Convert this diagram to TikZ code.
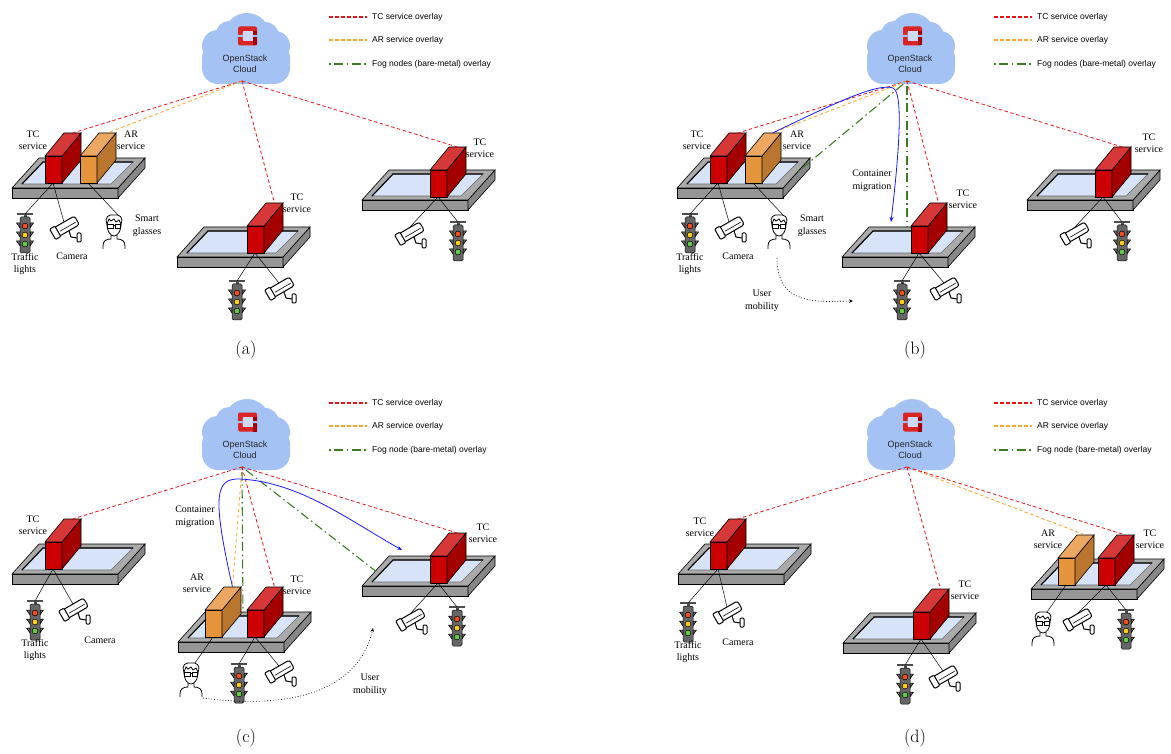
\documentclass[tikz,border=0pt]{standalone}
\usepackage{fontspec}
\newfontfamily\lblfont{Liberation Serif}
\newfontfamily\keyfont{Liberation Sans}
\usetikzlibrary{arrows.meta}

\definecolor{cloudblue}{RGB}{164,194,244}
\definecolor{logored}{RGB}{218,36,36}
\definecolor{logohole}{RGB}{205,218,246}
\definecolor{tcred}{RGB}{230,20,20}
\definecolor{arorange}{RGB}{255,165,40}
\definecolor{foggreen}{RGB}{60,125,35}
\definecolor{migblue}{RGB}{25,25,255}
\definecolor{tcfront}{RGB}{204,0,0}
\definecolor{tctop}{RGB}{214,56,56}
\definecolor{tcside}{RGB}{165,0,0}
\definecolor{arfront}{RGB}{230,148,60}
\definecolor{artop}{RGB}{236,168,98}
\definecolor{arside}{RGB}{186,118,46}
\definecolor{slabtop}{RGB}{170,170,170}
\definecolor{slabfront}{RGB}{150,150,150}
\definecolor{slabside}{RGB}{135,135,135}
\definecolor{screen}{RGB}{214,227,248}
\definecolor{lampred}{RGB}{240,80,30}
\definecolor{lampyellow}{RGB}{250,205,30}
\definecolor{lampgreen}{RGB}{100,205,70}

\tikzset{
  tcline/.style={tcred, line width=0.8pt, dash pattern=on 3.5pt off 2.5pt},
  arline/.style={arorange, line width=0.8pt, dash pattern=on 3.5pt off 2.5pt},
  fogline/.style={foggreen, line width=1.1pt, dash pattern=on 1.5pt off 3.5pt on 9pt off 3.5pt},
  migration/.style={migblue, line width=0.8pt, -{Stealth[length=5pt,width=4pt]}},
  mobility/.style={black, line width=0.7pt, dash pattern=on 0.8pt off 2pt, -{Stealth[length=4pt,width=3.5pt]}},
  wire/.style={black, line width=0.5pt},
  lbl/.style={font=\lblfont\fontsize{10}{12.5}\selectfont, align=center, inner sep=0pt},
  keytext/.style={font=\keyfont\fontsize{8.5}{10}\selectfont, anchor=west, inner sep=0pt},
  cloudtext/.style={font=\keyfont\fontsize{9}{11.5}\selectfont, align=center, inner sep=0pt, text=black!85},
  caption/.style={font=\fontsize{18}{20}\selectfont, inner sep=0pt}
}

% cloud with the OpenStack logo; #1 name, (#2,#3) centre
\newcommand{\stackcloud}[3]{%
  \begin{scope}[shift={(#2,#3)}]
    \fill[cloudblue] (2,-12) circle (23pt) (-27,-2) circle (16pt) (30,-2) circle (15pt)
      (-16,-14) circle (13pt) (20,-12) circle (14pt);
    \fill[cloudblue, rounded corners=16pt] (-43,-6) rectangle (45,36);
    \fill[logored, even odd rule, rounded corners=2pt] (-7,-21.5) rectangle (12,-2.5)
      (-2.5,-17) rectangle (7.5,-7);
    \fill[logohole] (-2.5,-17) rectangle (7.5,-7);
    \fill[tcside] (7.5,-17) rectangle (12,-2.5);
    \fill[cloudblue] (-8,-13) rectangle (-2.5,-11) (7.5,-13) rectangle (13,-11);
    \node[cloudtext] (#1) at (0,16) {OpenStack\\Cloud};
    \coordinate (#1-hub) at (-3,33);
  \end{scope}}

% fog node slab; #1 name, (#2,#3) front-left corner of the top face
\newcommand{\slab}[3]{%
  \begin{scope}[shift={(#2,#3)}, line width=0.6pt]
    \filldraw[fill=slabfront] (0,0) rectangle (106,10);
    \filldraw[fill=slabside] (106,0) -- (133,-30) -- (133,-20) -- (106,10) -- cycle;
    \filldraw[fill=slabtop] (0,0) -- (106,0) -- (133,-30) -- (27,-30) -- cycle;
    \filldraw[fill=screen, draw=black!60] (10,-4) -- (99,-4) -- (121,-26) -- (31,-26) -- cycle;
    \draw[line width=1.1pt] (10,-4) -- (31,-26) -- (121,-26);
    \coordinate (#1-w) at (13.5,-15);
    \coordinate (#1-e) at (119.5,-15);
    \coordinate (#1-n) at (65,-30);
  \end{scope}}

% service container; #1 name, (#2,#3) front-bottom-left corner, #4 tc or ar
\newcommand{\crate}[4]{%
  \begin{scope}[shift={(#2,#3)}, line width=0.6pt]
    \filldraw[fill=#4front] (0,0) rectangle (17,-27);
    \filldraw[fill=#4side] (17,0) -- (17,-27) -- (36,-50) -- (36,-23) -- cycle;
    \filldraw[fill=#4top] (0,-27) -- (17,-27) -- (36,-50) -- (19,-50) -- cycle;
    \coordinate (#1-top) at (27.5,-50);
    \coordinate (#1-base) at (8,0);
  \end{scope}}

% traffic light; #1 name, (#2,#3) middle of the top bar
\newcommand{\tlight}[3]{%
  \begin{scope}[shift={(#2,#3)}, line width=0.5pt]
    \draw[line width=1.3pt, black!70] (-8,0) -- (8,0);
    \fill[black!70] (-1.5,0) rectangle (1.5,3);
    \foreach \y in {9,18,27} {
      \filldraw[fill=black!60] (-5,\y) -- (-8.5,\y) -- (-5,\y+5) -- cycle;
      \filldraw[fill=black!60] (5,\y) -- (8.5,\y) -- (5,\y+5) -- cycle;
    }
    \filldraw[fill=black!60, rounded corners=1.5pt] (-5,3) rectangle (5,39);
    \filldraw[fill=lampred] (0,12) circle (2.9pt);
    \filldraw[fill=lampyellow] (0,21) circle (2.9pt);
    \filldraw[fill=lampgreen] (0,30) circle (2.9pt);
    \coordinate (#1) at (0,0);
  \end{scope}}

% surveillance camera; #1 name, (#2,#3) top of the housing
\newcommand{\cctv}[3]{%
  \begin{scope}[shift={(#2,#3)}, line width=1pt]
    \draw (5,9) -- (7,15) -- (13,16);
    \filldraw[fill=white, rounded corners=1pt] (13,11) rectangle (17,20);
    \begin{scope}[rotate=30]
      \filldraw[fill=white, rounded corners=2.5pt] (-12,0) rectangle (12,10);
      \filldraw[fill=white, rounded corners=1pt] (-16,-1) rectangle (-10,11);
      \draw[line width=0.6pt] (-8,6) -- (10,6);
    \end{scope}
    \coordinate (#1) at (0,0);
  \end{scope}}

% user wearing smart glasses; #1 name, (#2,#3) top of the head
\newcommand{\wearer}[3]{%
  \begin{scope}[shift={(#2,#3)}, line width=0.8pt]
    \draw[fill=white] (-7,7) .. controls (-7.5,17) and (-3,21) .. (0,21)
      .. controls (3,21) and (7.5,17) .. (7,7);
    \draw[fill=white] (-7,9) .. controls (-10,2) and (-5,-1) .. (0,0)
      .. controls (5,-1) and (10,2) .. (7,9) -- (5,5) -- (2,7) -- (0,4) -- (-3,6) -- (-5,4) -- cycle;
    \draw (-6.5,9.5) rectangle (-1,13) (1,9.5) rectangle (6.5,13) (-1,10.5) -- (1,10.5);
    \draw (-3,20) -- (-3,24) .. controls (-8,24) and (-11,26) .. (-11,31) -- (-11,34);
    \draw (3,20) -- (3,24) .. controls (8,24) and (11,26) .. (11,31) -- (11,34);
    \coordinate (#1) at (4,0);
  \end{scope}}

% overlay key; #1 panel prefix, #2 fog entry
\newcommand{\overlaykey}[2]{%
  \node[keytext] (#1-ktc) at (372,17) {TC service overlay};
  \node[keytext] (#1-kar) at (372,40) {AR service overlay};
  \node[keytext] (#1-kfog) at (372,64) {#2};
  \draw[tcline, line width=1.2pt] ([xshift=-43pt]#1-ktc.west) -- ([xshift=-5pt]#1-ktc.west);
  \draw[arline, line width=1.2pt] ([xshift=-43pt]#1-kar.west) -- ([xshift=-5pt]#1-kar.west);
  \draw[fogline] ([xshift=-43pt]#1-kfog.west) -- ([xshift=-5pt]#1-kfog.west);}

\begin{document}
\begin{tikzpicture}[x=1pt, y=-1pt]
\useasboundingbox (0,0) rectangle (1171,754);

% ---------- (a) initial placement ----------
\stackcloud{a-cloud}{245}{48}
\overlaykey{a}{Fog nodes (bare-metal) overlay}
\slab{a-pl1}{12}{188}
\crate{a-tc1}{45}{183}{tc}
\crate{a-ar1}{80}{183}{ar}
\slab{a-pl2}{177}{257}
\crate{a-tc2}{247}{253}{tc}
\slab{a-pl3}{362}{200}
\crate{a-tc3}{430}{197}{tc}
\tlight{a-tl1}{25}{214}
\cctv{a-cam1}{64}{222}
\wearer{a-user}{114}{215}
\tlight{a-tl2}{237}{281}
\cctv{a-cam2}{279}{283}
\cctv{a-cam3}{409}{228}
\tlight{a-tl3}{458}{222}
\draw[wire] (a-tc1-base) -- (a-tl1);
\draw[wire] (a-tc1-base) -- (a-cam1);
\draw[wire] (a-ar1-base) -- (a-user);
\draw[wire] (a-tc2-base) -- (a-tl2);
\draw[wire] (a-tc2-base) -- (a-cam2);
\draw[wire] (a-tc3-base) -- (a-cam3);
\draw[wire] (a-tc3-base) -- (a-tl3);
\draw[tcline] (a-cloud-hub) -- (a-tc1-top);
\draw[arline] (a-cloud-hub) -- (a-ar1-top);
\draw[tcline] (a-cloud-hub) -- (a-tc2-top);
\draw[tcline] (a-cloud-hub) -- (a-tc3-top);
\node[lbl] (a-l1) at (33,140) {TC\\service};
\node[lbl] (a-l2) at (131,140) {AR\\service};
\node[lbl] (a-l3) at (25,264) {Traffic\\lights};
\node[lbl] (a-l4) at (72,256) {Camera};
\node[lbl] (a-l5) at (147,226) {Smart\\glasses};
\node[lbl] (a-l6) at (297,203) {TC\\service};
\node[lbl] (a-l7) at (480,148) {TC\\service};
\node[caption] (a-cap) at (246,350) {(a)};

% ---------- (b) user moves, AR container migrates ----------
\begin{scope}[shift={(665,0)}]
\stackcloud{b-cloud}{245}{48}
\overlaykey{b}{Fog nodes (bare-metal) overlay}
\slab{b-pl1}{12}{188}
\crate{b-tc1}{45}{183}{tc}
\crate{b-ar1}{80}{183}{ar}
\slab{b-pl2}{177}{257}
\crate{b-tc2}{246}{253}{tc}
\slab{b-pl3}{362}{200}
\crate{b-tc3}{430}{197}{tc}
\tlight{b-tl1}{25}{214}
\cctv{b-cam1}{64}{222}
\wearer{b-user}{114}{215}
\tlight{b-tl2}{237}{281}
\cctv{b-cam2}{279}{283}
\cctv{b-cam3}{409}{228}
\tlight{b-tl3}{457}{222}
\draw[wire] (b-tc1-base) -- (b-tl1);
\draw[wire] (b-tc1-base) -- (b-cam1);
\draw[wire] (b-ar1-base) -- (b-user);
\draw[wire] (b-tc2-base) -- (b-tl2);
\draw[wire] (b-tc2-base) -- (b-cam2);
\draw[wire] (b-tc3-base) -- (b-cam3);
\draw[wire] (b-tc3-base) -- (b-tl3);
\draw[tcline] (b-cloud-hub) -- (b-tc1-top);
\draw[arline] (b-cloud-hub) -- (b-ar1-top);
\draw[fogline] (b-cloud-hub) -- (b-pl1-e);
\draw[fogline] (b-cloud-hub) -- (b-pl2-n);
\draw[tcline] (b-cloud-hub) -- (b-tc2-top);
\draw[tcline] (b-cloud-hub) -- (b-tc3-top);
\coordinate (b-landing) at (226,222);
\draw[migration] (b-ar1-top) .. controls (160,108) and (212,82) .. (228,88)
  .. controls (240,93) and (232,170) .. (b-landing);
\coordinate (b-walk) at (112,258);
\coordinate (b-arrive) at (188,301);
\draw[mobility] (b-walk) .. controls (112,305) and (150,302) .. (b-arrive);
\node[lbl] (b-l1) at (32,140) {TC\\service};
\node[lbl] (b-l2) at (132,140) {AR\\service};
\node[lbl] (b-l3) at (25,264) {Traffic\\lights};
\node[lbl] (b-l4) at (73,256) {Camera};
\node[lbl] (b-l5) at (147,226) {Smart\\glasses};
\node[lbl] (b-l6) at (298,199) {TC\\service};
\node[lbl] (b-l7) at (484,143) {TC\\service};
\node[lbl] (b-l8) at (207,181) {Container\\migration};
\node[lbl] (b-l9) at (97,301) {User\\mobility};
\node[caption] (b-cap) at (250,350) {(b)};
\end{scope}

% ---------- (c) user moves on, AR container follows ----------
\begin{scope}[shift={(0,386)}]
\stackcloud{c-cloud}{245}{48}
\overlaykey{c}{Fog node (bare-metal) overlay}
\slab{c-pl1}{12}{188}
\crate{c-tc1}{45}{183}{tc}
\slab{c-pl2}{178}{256}
\crate{c-ar2}{205}{251}{ar}
\crate{c-tc2}{247}{251}{tc}
\slab{c-pl3}{362}{200}
\crate{c-tc3}{430}{197}{tc}
\tlight{c-tl1}{35}{215}
\cctv{c-cam1}{73}{218}
\wearer{c-user}{191}{277}
\tlight{c-tl2}{239}{278}
\cctv{c-cam2}{279}{280}
\cctv{c-cam3}{410}{228}
\tlight{c-tl3}{457}{221}
\draw[wire] (c-tc1-base) -- (c-tl1);
\draw[wire] (c-tc1-base) -- (c-cam1);
\draw[wire] (c-ar2-base) -- (c-user);
\draw[wire] (c-tc2-base) -- (c-tl2);
\draw[wire] (c-tc2-base) -- (c-cam2);
\draw[wire] (c-tc3-base) -- (c-cam3);
\draw[wire] (c-tc3-base) -- (c-tl3);
\draw[tcline] (c-cloud-hub) -- (c-tc1-top);
\draw[arline] (c-cloud-hub) -- (c-ar2-top);
\draw[fogline] (c-cloud-hub) -- (c-pl2-n);
\draw[tcline] (c-cloud-hub) -- (c-tc2-top);
\draw[fogline] (c-cloud-hub) -- (c-pl3-w);
\draw[tcline] (c-cloud-hub) -- (c-tc3-top);
\coordinate (c-landing) at (402,164);
\draw[migration] (c-ar2-top) .. controls (212,110) and (215,92) .. (240,93)
  .. controls (300,96) and (350,135) .. (c-landing);
\coordinate (c-walk) at (203,312);
\coordinate (c-arrive) at (373,242);
\draw[mobility] (c-walk) .. controls (300,325) and (360,300) .. (c-arrive);
\node[lbl] (c-l1) at (33,139) {TC\\service};
\node[lbl] (c-l2) at (35,264) {Traffic\\lights};
\node[lbl] (c-l3) at (100,254) {Camera};
\node[lbl] (c-l4) at (197,197) {AR\\service};
\node[lbl] (c-l5) at (297,199) {TC\\service};
\node[lbl] (c-l6) at (483,147) {TC\\service};
\node[lbl] (c-l7) at (195,131) {Container\\migration};
\node[lbl] (c-l8) at (370,299) {User\\mobility};
\node[caption] (c-cap) at (246,352) {(c)};
\end{scope}

% ---------- (d) final placement ----------
\begin{scope}[shift={(665,386)}]
\stackcloud{d-cloud}{245}{48}
\overlaykey{d}{Fog node (bare-metal) overlay}
\slab{d-pl1}{13}{188}
\crate{d-tc1}{45}{183}{tc}
\slab{d-pl2}{178}{257}
\crate{d-tc2}{248}{253}{tc}
\slab{d-pl3}{366}{203}
\crate{d-ar3}{393}{199}{ar}
\crate{d-tc3}{433}{199}{tc}
\tlight{d-tl1}{23}{217}
\cctv{d-cam1}{62}{221}
\tlight{d-tl2}{240}{279}
\cctv{d-cam2}{278}{285}
\wearer{d-user}{378}{226}
\cctv{d-cam3}{412}{228}
\tlight{d-tl3}{461}{224}
\draw[wire] (d-tc1-base) -- (d-tl1);
\draw[wire] (d-tc1-base) -- (d-cam1);
\draw[wire] (d-tc2-base) -- (d-tl2);
\draw[wire] (d-tc2-base) -- (d-cam2);
\draw[wire] (d-ar3-base) -- (d-user);
\draw[wire] (d-tc3-base) -- (d-cam3);
\draw[wire] (d-tc3-base) -- (d-tl3);
\draw[tcline] (d-cloud-hub) -- (d-tc1-top);
\draw[tcline] (d-cloud-hub) -- (d-tc2-top);
\draw[arline] (d-cloud-hub) -- (d-ar3-top);
\draw[tcline] (d-cloud-hub) -- (d-tc3-top);
\node[lbl] (d-l1) at (35,141) {TC\\service};
\node[lbl] (d-l2) at (23,266) {Traffic\\lights};
\node[lbl] (d-l3) at (73,256) {Camera};
\node[lbl] (d-l4) at (300,204) {TC\\service};
\node[lbl] (d-l5) at (383,153) {AR\\service};
\node[lbl] (d-l6) at (485,153) {TC\\service};
\node[caption] (d-cap) at (250,352) {(d)};
\end{scope}

\end{tikzpicture}
\end{document}
